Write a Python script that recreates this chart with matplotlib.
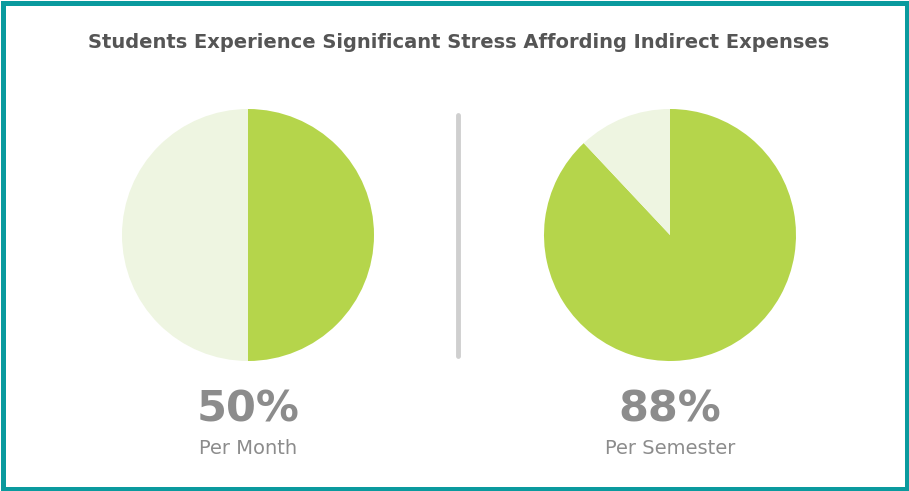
import matplotlib
matplotlib.use("Agg")
import matplotlib.pyplot as plt
from matplotlib.patches import Rectangle
from matplotlib.lines import Line2D

W, H = 909, 491
title = "Students Experience Significant Stress Affording Indirect Expenses"
labels = ["Per Month", "Per Semester"]
percents = [50, 88]

GREEN = "#b5d54b"
LIGHT = "#eef5e1"
GRAY_TXT = "#8c8c8c"
TEAL = "#0a9a9e"

fig = plt.figure(figsize=(W / 100, H / 100), dpi=100)
fig.patch.set_facecolor("white")

def px_axes(x0, y0, x1, y1):
    return fig.add_axes([x0 / W, 1 - y1 / H, (x1 - x0) / W, (y1 - y0) / H])

centers = [(248, 235), (670, 235)]
r = 126
for (cx, cy), p, lab in zip(centers, percents, labels):
    ax = px_axes(cx - r, cy - r, cx + r, cy + r)
    ax.pie([p, 100 - p], colors=[GREEN, LIGHT], startangle=90, counterclock=False,
           radius=1, wedgeprops=dict(linewidth=0))
    ax.set_xlim(-1, 1)
    ax.set_ylim(-1, 1)
    ax.set_aspect("auto")
    ax.axis("off")
    fig.text(cx / W, 1 - 409 / H, f"{p}%", ha="center", va="center",
             fontsize=31, fontweight="heavy", color=GRAY_TXT, family="DejaVu Sans")
    fig.text(cx / W, 1 - 449 / H, lab, ha="center", va="center",
             fontsize=14, color=GRAY_TXT, family="DejaVu Sans")

fig.text(459 / W, 1 - 43 / H, title, ha="center", va="center", fontsize=14,
         fontweight="bold", color="#555555", family="DejaVu Sans")

# divider
fig.add_artist(Line2D([458 / W, 458 / W], [1 - 115 / H, 1 - 356 / H],
                      transform=fig.transFigure, color="#cfcfcf", linewidth=3.5,
                      solid_capstyle="round"))

# teal border
b = 5
fig.add_artist(Rectangle((b / 2 / W, b / 2 / H), 1 - b / W, 1 - b / H,
                         transform=fig.transFigure, fill=False, edgecolor=TEAL,
                         linewidth=b * 0.72))

fig.savefig("out.png", dpi=100)
